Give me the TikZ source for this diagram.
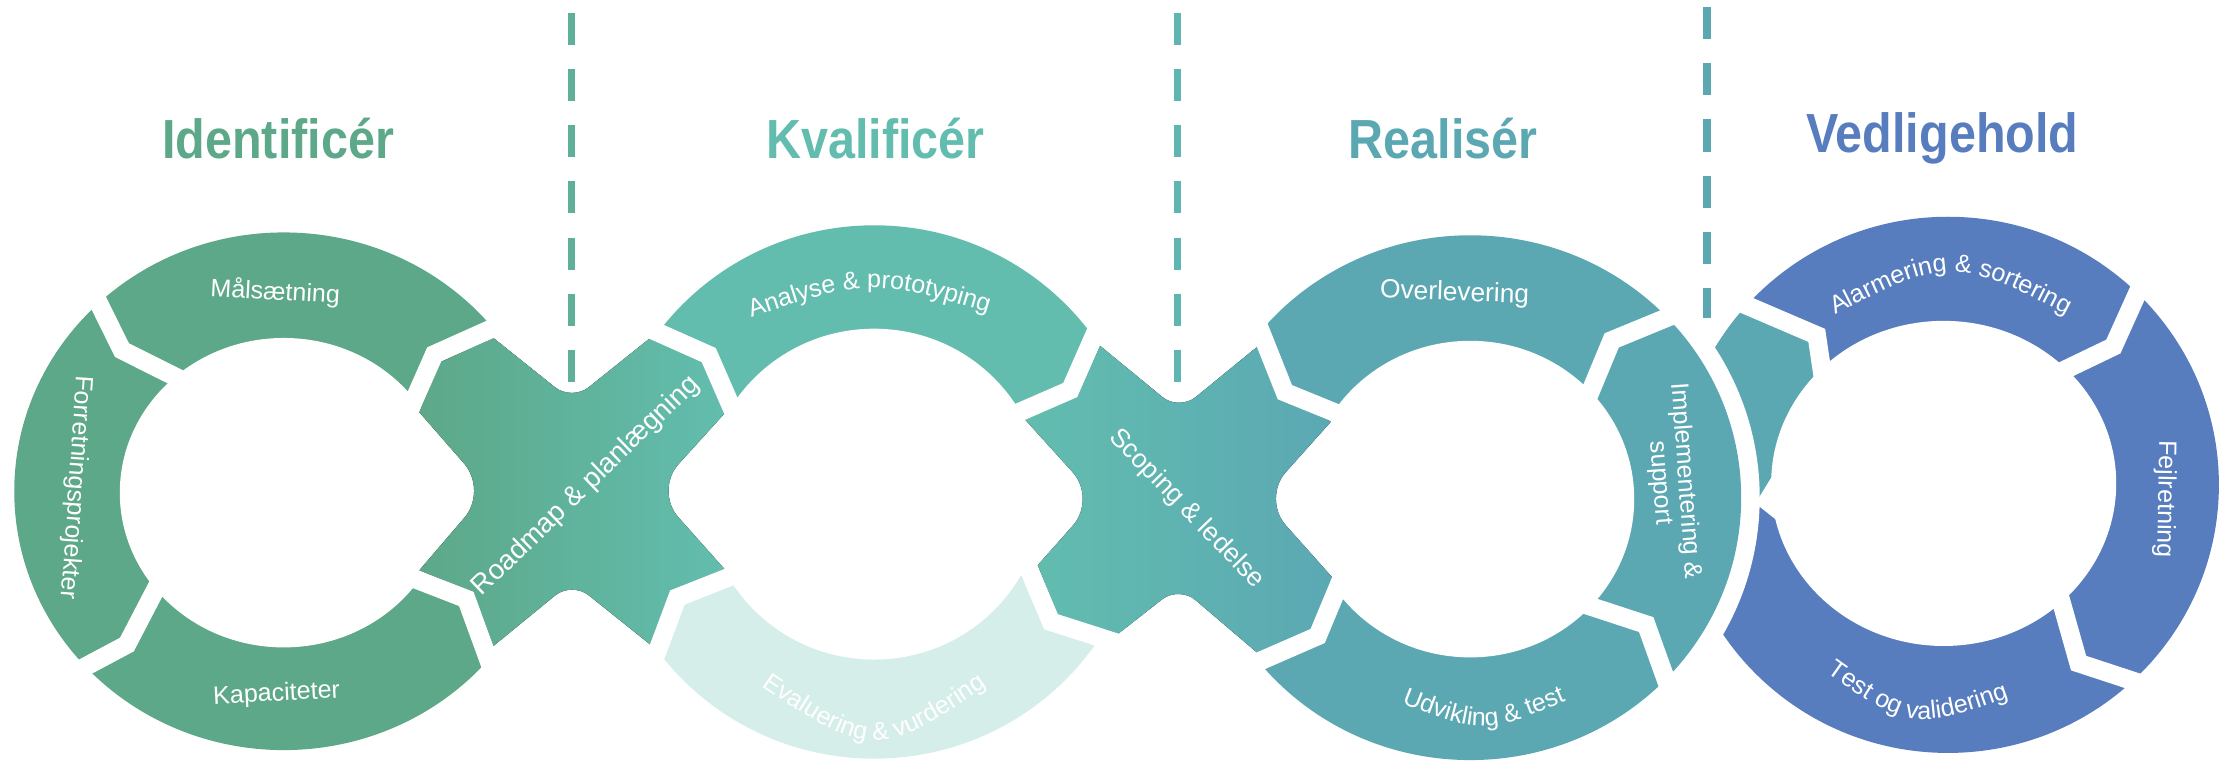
\documentclass[tikz,border=0pt]{standalone}
\usepackage{graphicx}
\usepackage{fontspec}
\setmainfont{Liberation Sans}
\usetikzlibrary{decorations.text}
\definecolor{identcol}{HTML}{5DA889}
\definecolor{kvalcol}{HTML}{62BDAE}
\definecolor{kvallight}{HTML}{D6EEE9}
\definecolor{realcol}{HTML}{5BA8B3}
\definecolor{vedlcol}{HTML}{587DBE}
\newcommand{\lblfont}{\fontsize{10}{10}\selectfont}
\newcommand{\titletext}[1]{\scalebox{0.88}[1]{#1}}

\begin{document}
\begin{tikzpicture}[x=0.02cm, y=-0.02cm,
	lbl/.style={text=white, font=\lblfont, inner sep=0pt},
	title/.style={font=\bfseries\fontsize{22}{24}\selectfont, inner sep=0pt},
	gap/.style={white, line width=0.26cm},
	dashline/.style={line width=0.1cm, dash pattern=on 0.45cm off 0.338cm},
	curved/.style={decorate, decoration={text along path, text align=center, text={|\color{white}\lblfont|#1}}}]
	\useasboundingbox (0,0) rectangle (1568,536);

	% Vedligehold loop, with the Realiser chip
	\fill[vedlcol] (1366,340) ellipse [x radius=190, y radius=188];
	\begin{scope}
		\clip (1366,340) ellipse [x radius=190, y radius=188];
		\fill[realcol] (1170,190) -- (1231.6,217) -- (1274,235.2) -- (1279.5,272.8) -- (1285,290) -- (1236,352) -- (1170,352) -- cycle;
	\end{scope}

	% Realiser loop
	\begin{scope}
		\clip (1100,0) rectangle (1568,536);
		\draw[white, line width=0.52cm] (1031,349) ellipse [x radius=190, y radius=184];
	\end{scope}
	\begin{scope}
		\clip (886,0) rectangle (1568,536);
		\fill[realcol] (1031,349) ellipse [x radius=190, y radius=184];
	\end{scope}

	% Identificer loop
	\begin{scope}
		\clip (0,0) rectangle (341,536);
		\fill[identcol] (199,344.5) ellipse [x radius=189, y radius=181.5];
	\end{scope}

	% Kvalificer loop
	\begin{scope}
		\clip (461,0) rectangle (772,346);
		\fill[kvalcol] (613,345) ellipse [x radius=189, y radius=187];
	\end{scope}
	\begin{scope}
		\clip (461,346) rectangle (772,536);
		\fill[kvallight] (613,345) ellipse [x radius=189, y radius=187];
	\end{scope}

	% holes
	\fill[white] (199,345.5) ellipse [x radius=115, y radius=108.5];
	\fill[white] (290,283) -- (346,344) -- (289,405) -- cycle;
	\fill[white] (613,346.5) ellipse [x radius=118, y radius=116];
	\fill[white] (512,283) -- (455,346) -- (512,410) -- cycle;
	\fill[white] (715,289) -- (772,350) -- (722,402) -- cycle;
	\fill[white] (1031,350) ellipse [x radius=115, y radius=111];
	\fill[white] (938,287) -- (880,350) -- (940,414) -- cycle;
	\fill[white] (1363,339) ellipse [x radius=121, y radius=114];
	\fill[white] (1231,353) -- (1283,268) -- (1320,240) -- (1320,420) -- (1255,372) -- cycle;

	% crossings
	\fill[left color=identcol, right color=kvalcol] (294,289) -- (309,254) -- (346,237) [rounded corners=0.3cm] -- (401,281) [sharp corners] -- (456,237) -- (493,254) -- (508,290) [rounded corners=0.5cm] -- (459,344) [sharp corners] -- (508,399) -- (470,414) -- (456,452) [rounded corners=0.3cm] -- (401,408) [sharp corners] -- (346,453) -- (332,415) -- (294,400) [rounded corners=0.5cm] -- (342,344) [sharp corners] -- cycle;
	\fill[left color=kvalcol, right color=realcol] (718.8,294.2) -- (755.6,277.8) -- (771.4,242.5) [rounded corners=0.3cm] -- (826.8,288) [sharp corners] -- (881.6,243.2) -- (895.9,279.1) -- (933.5,295.5) [rounded corners=0.5cm] -- (885,349.7) [sharp corners] -- (934.5,405.2) -- (919.1,441.8) -- (881.6,457.7) [rounded corners=0.3cm] -- (826.8,411) [sharp corners] -- (784.3,444.3) -- (742,431.7) -- (727.7,396.4) [rounded corners=0.5cm] -- (769,349.7) [sharp corners] -- cycle;

	% white cuts between the pieces
	\draw[gap] (65,204) -- (85.5,245.5) -- (131.4,268.5);
	\draw[gap] (112.1,407.6) -- (89,452) -- (48.2,473.7);
	\draw[gap] (351.6,227.4) -- (304.5,248.5) -- (285.5,291.6);
	\draw[gap] (343.9,466.4) -- (327,420) -- (279.2,401.4);
	\draw[gap] (451.9,228.9) -- (497,249) -- (516.5,293.7);
	\draw[gap] (457.5,465.9) -- (475,419) -- (522.3,400.3);
	\draw[gap] (771,226.9) -- (750.5,273.5) -- (705.8,293);
	\draw[gap] (718.6,392.3) -- (737,436) -- (787,452);
	\draw[gap] (882,227.2) -- (901,275) -- (947,293.8);
	\draw[gap] (942.4,401.8) -- (924,446) -- (876.5,466.7);
	\draw[gap] (1177.6,219.2) -- (1130.2,238.7) -- (1112,282.5);
	\draw[gap] (1105.9,422.1) -- (1154.4,438) -- (1171.1,484.6);
	\draw[gap] (1222.4,213.1) -- (1274,235.2) -- (1281,282.7);
	\draw[gap] (1502.5,197.5) -- (1482,243) -- (1439.8,263.3);
	\draw[gap] (1442.8,412.6) -- (1457.6,465) -- (1503,479.9);

	% labels
	\node (lMaal) [lbl, rotate=-3] at (193,205) {Målsætning};
	\node (lForr) [lbl, rotate=-94] at (53,342) {Forretningsprojekter};
	\node (lKap) [lbl, rotate=3] at (194,487) {Kapaciteter};
	\node (lRoad) [lbl, rotate=44, font=\fontsize{11}{11}\selectfont] at (411,341) {Roadmap \& planlægning};
	\node (lScop) [lbl, rotate=-46, font=\fontsize{10.5}{10.5}\selectfont] at (832,357) {Scoping \& ledelse};
	\node (lOver) [lbl, rotate=-2, font=\fontsize{10.5}{10.5}\selectfont] at (1020,206) {Overlevering};
	\node (lImpl) [lbl, rotate=-86, align=center] at (1173,338) {Implementering \&\\support};
	\node (lFejl) [lbl, rotate=-91] at (1518,350) {Fejlretning};
	\path[curved={Analyse {\&} prototyping}] (512,228) .. controls (610,194) .. (708,224);
	\path[curved={Evaluering {\&} vurdering}] (515,468) .. controls (613,536) .. (711,468);
	\path[curved={Udvikling {\&} test}] (975,490) .. controls (1040,516) .. (1106,488);
	\path[curved={Alarmering {\&} sortering}] (1273,228) .. controls (1368,178) .. (1463,228);
	\path[curved={Test og validering}] (1267.7,462.1) .. controls (1340,514) .. (1424.2,483.7);

	% phase separators
	\draw[dashline, draw=identcol!60!kvalcol] (401,9) -- (401,268);
	\draw[dashline, draw=kvalcol!60!realcol] (826,9) -- (826,268);
	\draw[dashline, draw=realcol] (1197,5) -- (1197,223);

	% phase titles
	\node (tIdent) [title, text=identcol] at (195,97) {\titletext{Identificér}};
	\node (tKval) [title, text=kvalcol] at (614,97) {\titletext{Kvalificér}};
	\node (tReal) [title, text=realcol] at (1012,97) {\titletext{Realisér}};
	\node (tVedl) [title, text=vedlcol] at (1362,97) {\titletext{Vedligehold}};
\end{tikzpicture}
\end{document}
